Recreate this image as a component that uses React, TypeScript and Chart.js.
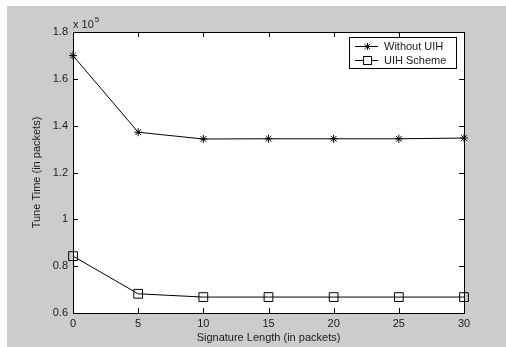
import React, { useEffect, useRef } from "react";
import { Chart, registerables } from "chart.js";

Chart.register(...registerables);

const signatureLengths = [0, 5, 10, 15, 20, 25, 30];
const withoutUIH = [169900, 137200, 134300, 134400, 134400, 134400, 134700];
const uihScheme = [84300, 68200, 66800, 66800, 66800, 66800, 66800];
const seriesLabels = ["Without UIH", "UIH Scheme"];
const xTitle = "Signature Length (in packets)";
const yTitle = "Tune Time (in packets)";
const exponentLabel = "5";

const FONT = "11px Arial, 'Liberation Sans', sans-serif";
const TEXT = "#1a1a1a";

const matlabPlugin = {
  id: "matlabDecor",
  beforeDraw(chart: any) {
    const ctx = chart.ctx;
    ctx.save();
    ctx.fillStyle = "#ffffff";
    ctx.fillRect(0, 0, chart.width, chart.height);
    ctx.fillStyle = "#cccccc";
    ctx.fillRect(7, 6, chart.width - 7, chart.height - 6);
    const a = chart.chartArea;
    ctx.fillStyle = "#ffffff";
    ctx.fillRect(a.left, a.top, a.right - a.left, a.bottom - a.top);
    ctx.restore();
  },
  afterDatasetsDraw(chart: any) {
    const ctx = chart.ctx;
    const a = chart.chartArea;
    const xs = chart.scales.x;
    const ys = chart.scales.y;
    ctx.save();
    ctx.strokeStyle = "#000";
    ctx.lineWidth = 1;
    ctx.strokeRect(Math.round(a.left) + 0.5, Math.round(a.top) + 0.5, Math.round(a.right - a.left), Math.round(a.bottom - a.top));
    const tl = 5;
    ctx.beginPath();
    xs.ticks.forEach((t: any) => {
      const px = Math.round(xs.getPixelForValue(t.value)) + 0.5;
      ctx.moveTo(px, a.bottom);
      ctx.lineTo(px, a.bottom - tl);
      ctx.moveTo(px, a.top);
      ctx.lineTo(px, a.top + tl);
    });
    ys.ticks.forEach((t: any) => {
      const py = Math.round(ys.getPixelForValue(t.value)) + 0.5;
      ctx.moveTo(a.left, py);
      ctx.lineTo(a.left + tl, py);
      ctx.moveTo(a.right, py);
      ctx.lineTo(a.right - tl, py);
    });
    ctx.stroke();

    // exponent label
    ctx.fillStyle = TEXT;
    ctx.font = FONT;
    ctx.textBaseline = "alphabetic";
    ctx.textAlign = "left";
    ctx.fillText("x 10", a.left, a.top - 4);
    const w = ctx.measureText("x 10").width;
    ctx.font = "8px Arial, 'Liberation Sans', sans-serif";
    ctx.fillText(exponentLabel, a.left + w + 1, a.top - 10);

    // axis titles
    ctx.font = FONT;
    ctx.textAlign = "center";
    ctx.textBaseline = "middle";
    ctx.fillText(xTitle, (a.left + a.right) / 2, 338);
    ctx.save();
    ctx.translate(37, (a.top + a.bottom) / 2);
    ctx.rotate(-Math.PI / 2);
    ctx.fillText(yTitle, 0, 0);
    ctx.restore();

    // legend
    const lx = 349, ly = 37, lw = 107, lh = 31;
    ctx.fillStyle = "#fff";
    ctx.fillRect(lx, ly, lw, lh);
    ctx.strokeStyle = "#000";
    ctx.strokeRect(lx + 0.5, ly + 0.5, lw, lh);
    chart.data.datasets.forEach((ds: any, i: number) => {
      const y = ly + 9 + i * 14;
      ctx.beginPath();
      ctx.moveTo(lx + 6, y + 0.5);
      ctx.lineTo(lx + 29, y + 0.5);
      ctx.strokeStyle = "#000";
      ctx.stroke();
      ctx.beginPath();
      const cx = lx + 18;
      if (ds.pointStyle === "rect") {
        ctx.fillStyle = "#fff";
        ctx.fillRect(cx - 4, y - 4, 9, 9);
        ctx.strokeRect(cx - 4 + 0.5, y - 4 + 0.5, 8, 8);
      } else {
        ctx.moveTo(cx - 3.5, y + 0.5); ctx.lineTo(cx + 3.5, y + 0.5);
        ctx.moveTo(cx + 0.5, y - 3); ctx.lineTo(cx + 0.5, y + 4);
        ctx.moveTo(cx - 2.5, y - 2); ctx.lineTo(cx + 3, y + 3);
        ctx.moveTo(cx + 3, y - 2); ctx.lineTo(cx - 2.5, y + 3);
        ctx.stroke();
      }
      ctx.fillStyle = TEXT;
      ctx.textAlign = "left";
      ctx.textBaseline = "middle";
      ctx.font = FONT;
      ctx.fillText(ds.label, lx + 35, y + 1);
    });
    ctx.restore();
  },
};

export default function App() {
  const ref = useRef<HTMLCanvasElement>(null);
  useEffect(() => {
    document.body.style.margin = "0";
    const chart = new Chart(ref.current as HTMLCanvasElement, {
      type: "line",
      data: {
        labels: signatureLengths,
        datasets: [
          {
            label: seriesLabels[0],
            data: signatureLengths.map((x, i) => ({ x, y: withoutUIH[i] })),
            borderColor: "#000",
            borderWidth: 1,
            pointStyle: "star",
            pointRadius: 4,
            pointBorderColor: "#000",
            pointBorderWidth: 1,
            pointBackgroundColor: "#000",
            fill: false,
            tension: 0,
            clip: false as any,
          },
          {
            label: seriesLabels[1],
            data: signatureLengths.map((x, i) => ({ x, y: uihScheme[i] })),
            borderColor: "#000",
            borderWidth: 1,
            pointStyle: "rect",
            pointRadius: 6.2,
            pointBorderColor: "#000",
            pointBorderWidth: 1,
            pointBackgroundColor: "rgba(0,0,0,0)",
            fill: false,
            tension: 0,
            clip: false as any,
          },
        ],
      },
      options: {
        animation: false,
        responsive: false,
        devicePixelRatio: 1,
        layout: { padding: { top: 32, right: 42, left: 0, bottom: 0 } },
        plugins: { legend: { display: false }, tooltip: { enabled: false } },
        scales: {
          x: {
            type: "linear",
            min: 0,
            max: 30,
            grid: { display: false, drawTicks: false },
            border: { display: false },
            afterFit: (s: any) => { s.height = 34; },
            ticks: {
              stepSize: 5,
              padding: 4,
              color: TEXT,
              font: { family: "Arial, 'Liberation Sans', sans-serif", size: 11 },
            },
          },
          y: {
            type: "linear",
            min: 60000,
            max: 180000,
            grid: { display: false, drawTicks: false },
            border: { display: false },
            afterFit: (s: any) => { s.width = 73; },
            ticks: {
              stepSize: 20000,
              padding: 5,
              color: TEXT,
              font: { family: "Arial, 'Liberation Sans', sans-serif", size: 11 },
              callback: (v: any) => String(Math.round((Number(v) / 100000) * 10) / 10),
            },
          },
        },
      },
      plugins: [matlabPlugin],
    });
    return () => chart.destroy();
  }, []);
  return (
    <div style={{ width: 506, height: 347 }}>
      <canvas ref={ref} width={506} height={347} style={{ display: "block" }} />
    </div>
  );
}
